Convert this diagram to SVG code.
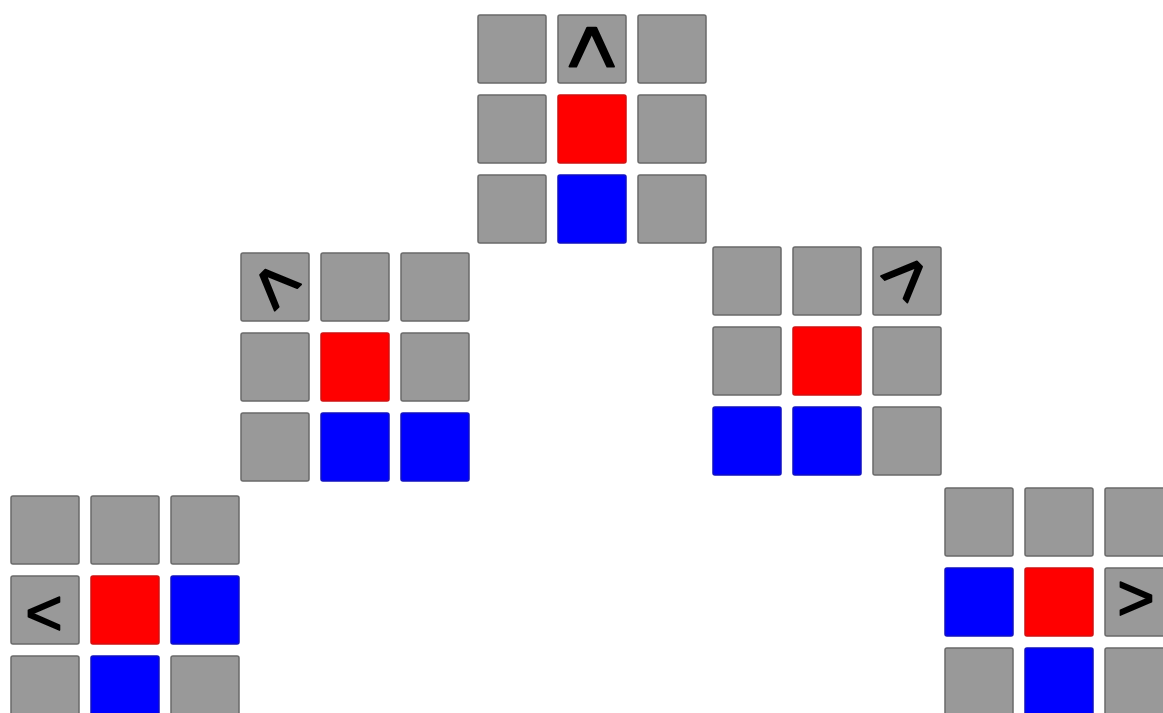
<svg xmlns="http://www.w3.org/2000/svg" width="1163" height="713" viewBox="0 0 1163 713">
<style>
.g{fill:#999999;stroke:#6a6a6a;stroke-width:1.5}
.r{fill:#ff0000;stroke:#d01010;stroke-width:1.5}
.b{fill:#0000ff;stroke:#1010c0;stroke-width:1.5}
.t{font-family:"Liberation Sans",Arial,sans-serif;font-size:64px;fill:#000;stroke:#000;stroke-width:1.6;stroke-linejoin:round;text-anchor:middle}
</style>
<rect width="1163" height="713" fill="#ffffff"/>
<g id="grid-top" transform="translate(478,15)">
<rect class="g" x="0" y="0" width="68" height="68" rx="2"/>
<rect class="g" x="80" y="0" width="68" height="68" rx="2"/>
<rect class="g" x="160" y="0" width="68" height="68" rx="2"/>
<rect class="g" x="0" y="80" width="68" height="68" rx="2"/>
<rect class="r" x="80" y="80" width="68" height="68" rx="2"/>
<rect class="g" x="160" y="80" width="68" height="68" rx="2"/>
<rect class="g" x="0" y="160" width="68" height="68" rx="2"/>
<rect class="b" x="80" y="160" width="68" height="68" rx="2"/>
<rect class="g" x="160" y="160" width="68" height="68" rx="2"/>
<text class="t" transform="translate(115,32) rotate(90) scale(1.25,1.35)" x="0" y="22">&lt;</text>
</g>
<g id="grid-left-mid" transform="translate(241,253)">
<rect class="g" x="0" y="0" width="68" height="68" rx="2"/>
<rect class="g" x="80" y="0" width="68" height="68" rx="2"/>
<rect class="g" x="160" y="0" width="68" height="68" rx="2"/>
<rect class="g" x="0" y="80" width="68" height="68" rx="2"/>
<rect class="r" x="80" y="80" width="68" height="68" rx="2"/>
<rect class="g" x="160" y="80" width="68" height="68" rx="2"/>
<rect class="g" x="0" y="160" width="68" height="68" rx="2"/>
<rect class="b" x="80" y="160" width="68" height="68" rx="2"/>
<rect class="b" x="160" y="160" width="68" height="68" rx="2"/>
<text class="t" transform="translate(35,31) rotate(45) scale(1.15)" x="0" y="22">&lt;</text>
</g>
<g id="grid-right-mid" transform="translate(713,247)">
<rect class="g" x="0" y="0" width="68" height="68" rx="2"/>
<rect class="g" x="80" y="0" width="68" height="68" rx="2"/>
<rect class="g" x="160" y="0" width="68" height="68" rx="2"/>
<rect class="g" x="0" y="80" width="68" height="68" rx="2"/>
<rect class="r" x="80" y="80" width="68" height="68" rx="2"/>
<rect class="g" x="160" y="80" width="68" height="68" rx="2"/>
<rect class="b" x="0" y="160" width="68" height="68" rx="2"/>
<rect class="b" x="80" y="160" width="68" height="68" rx="2"/>
<rect class="g" x="160" y="160" width="68" height="68" rx="2"/>
<text class="t" transform="translate(193,29) rotate(-45) scale(1.15)" x="0" y="22">&gt;</text>
</g>
<g id="grid-bottom-left" transform="translate(11,496)">
<rect class="g" x="0" y="0" width="68" height="68" rx="2"/>
<rect class="g" x="80" y="0" width="68" height="68" rx="2"/>
<rect class="g" x="160" y="0" width="68" height="68" rx="2"/>
<rect class="g" x="0" y="80" width="68" height="68" rx="2"/>
<rect class="r" x="80" y="80" width="68" height="68" rx="2"/>
<rect class="b" x="160" y="80" width="68" height="68" rx="2"/>
<rect class="g" x="0" y="160" width="68" height="68" rx="2"/>
<rect class="b" x="80" y="160" width="68" height="68" rx="2"/>
<rect class="g" x="160" y="160" width="68" height="68" rx="2"/>
<text class="t" x="33" y="139">&lt;</text>
</g>
<g id="grid-bottom-right" transform="translate(945,488)">
<rect class="g" x="0" y="0" width="68" height="68" rx="2"/>
<rect class="g" x="80" y="0" width="68" height="68" rx="2"/>
<rect class="g" x="160" y="0" width="68" height="68" rx="2"/>
<rect class="b" x="0" y="80" width="68" height="68" rx="2"/>
<rect class="r" x="80" y="80" width="68" height="68" rx="2"/>
<rect class="g" x="160" y="80" width="68" height="68" rx="2"/>
<rect class="g" x="0" y="160" width="68" height="68" rx="2"/>
<rect class="b" x="80" y="160" width="68" height="68" rx="2"/>
<rect class="g" x="160" y="160" width="68" height="68" rx="2"/>
<text class="t" x="191" y="132">&gt;</text>
</g>
</svg>
